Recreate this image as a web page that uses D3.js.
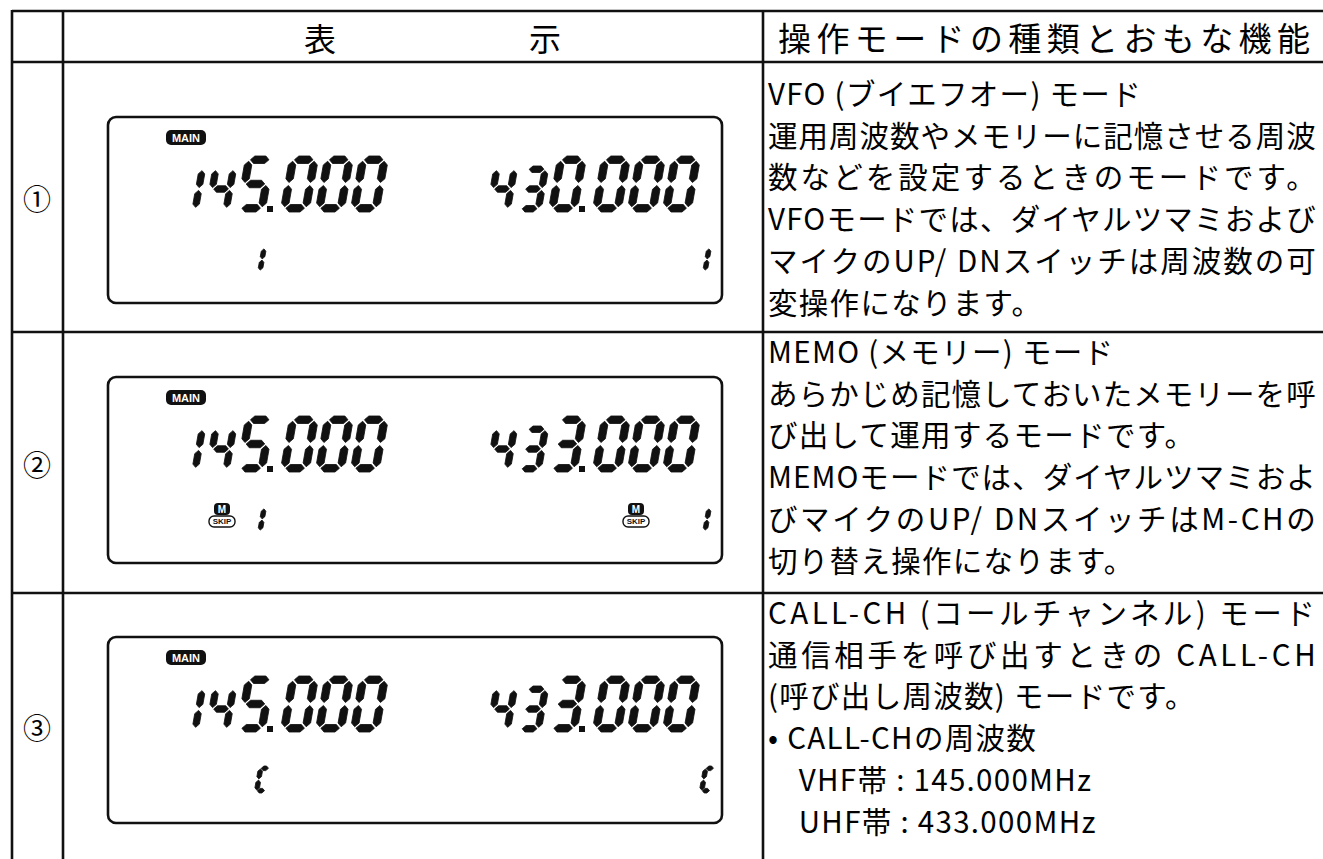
<!DOCTYPE html>
<html><head><meta charset="utf-8">
<script src="https://cdn.jsdelivr.net/npm/d3@7"></script>
<style>body{margin:0;background:#fff}</style>
</head><body><svg id="c" width="1323" height="859"></svg>
<script>
// ---------- data ----------
const rowLabels = ["①", "②", "③"];
const headerLeft = ["表", "示"];
const headerRight = "操作モードの種類とおもな機能";
const vhfFreq = ["145.000", "145.000", "145.000"];
const uhfFreq = ["430.000", "433.000", "433.000"];
const chIndicator = ["1", "1", "C"];
const skipShown = [false, true, false];
const descVFO = ["VFO (ブイエフオー) モード", "運用周波数やメモリーに記憶させる周波", "数などを設定するときのモードです。", "VFOモードでは、ダイヤルツマミおよび", "マイクのUP/ DNスイッチは周波数の可", "変操作になります。"];
const descMEMO = ["MEMO (メモリー) モード", "あらかじめ記憶しておいたメモリーを呼", "び出して運用するモードです。", "MEMOモードでは、ダイヤルツマミおよ", "びマイクのUP/ DNスイッチはM-CHの", "切り替え操作になります。"];
const descCALL = ["CALL-CH (コールチャンネル) モード", "通信相手を呼び出すときの CALL-CH", "(呼び出し周波数) モードです。", "• CALL-CHの周波数", "\u3000VHF帯 : 145.000MHz", "\u3000UHF帯 : 433.000MHz"];
const descriptions = [descVFO, descMEMO, descCALL];

// ---------- layout ----------
const W = 1323, H = 859;
const svg = d3.select("#c");
const font = "'Noto Sans CJK JP','Noto Sans',sans-serif";
const rowEdges = [62, 332, 593, 859];
const colX = [12, 63, 763, W];
const y = d3.scaleOrdinal().domain(d3.range(3)).range(rowEdges.slice(0, 3));
const rowH = i => rowEdges[i + 1] - rowEdges[i];
const boxTop = d3.scaleLinear().domain([0, 2]).range([117, 637]);

// grid lines
const g = svg.append("g").attr("stroke", "#111").attr("stroke-width", 2.6);
g.append("line").attr("x1", colX[0]).attr("x2", W).attr("y1", 11).attr("y2", 11);
rowEdges.slice(0, 3).forEach(v => g.append("line").attr("x1", colX[0]).attr("x2", W).attr("y1", v).attr("y2", v));
colX.slice(0, 3).forEach(v => g.append("line").attr("x1", v).attr("x2", v).attr("y1", 10).attr("y2", H));

// header
svg.append("text").attr("x", 320).attr("y", 37).attr("text-anchor", "middle").attr("dominant-baseline", "central")
  .attr("font-family", font).attr("font-size", 32).text(headerLeft[0]);
svg.append("text").attr("x", 545).attr("y", 37).attr("text-anchor", "middle").attr("dominant-baseline", "central")
  .attr("font-family", font).attr("font-size", 32).text(headerLeft[1]);
svg.append("text").attr("x", 778).attr("y", 37).attr("dominant-baseline", "central")
  .attr("font-family", font).attr("font-size", 33).attr("textLength", 532).attr("lengthAdjust", "spacing").text(headerRight);

// row labels
svg.selectAll("text.rl").data(rowLabels).join("text").attr("class", "rl")
  .attr("x", 37).attr("y", (d, i) => y(i) + rowH(i) / 2 + 1)
  .attr("text-anchor", "middle").attr("dominant-baseline", "central")
  .attr("font-family", font).attr("font-size", 28).text(d => d);

// descriptions
descriptions.forEach((lines, i) => {
  const first = y(i) + (i === 0 ? 30 : 18);
  svg.append("g").selectAll("text").data(lines).join("text").attr("class", "desc")
    .attr("x", 768).attr("y", (d, k) => first + k * 41.7)
    .attr("dominant-baseline", "central")
    .attr("font-family", font).attr("font-size", 29.5).attr("letter-spacing", 1.3)
    .style("white-space", "pre").text(d => d)
    .each(function () {
      const len = this.getComputedTextLength();
      if (len > 485) d3.select(this).attr("textLength", Math.min(549, len + 45)).attr("lengthAdjust", "spacing");
    });
});

// ---------- 7-segment drawing ----------
const SEG = {"0": "abcdef", "1": "bc", "3": "abcdg", "4": "bcfg", "5": "acdfg", "C": "adef"};
function segPolys(w, h, t, gp) {
  const hx = (x0, x1, yy) => [[x0 + gp, yy], [x0 + gp + t / 2, yy - t / 2], [x1 - gp - t / 2, yy - t / 2], [x1 - gp, yy], [x1 - gp - t / 2, yy + t / 2], [x0 + gp + t / 2, yy + t / 2]];
  const vx = (xx, y0, y1) => [[xx, y0 + gp], [xx + t / 2, y0 + gp + t / 2], [xx + t / 2, y1 - gp - t / 2], [xx, y1 - gp], [xx - t / 2, y1 - gp - t / 2], [xx - t / 2, y0 + gp + t / 2]];
  const L = t / 2, R = w - t / 2, T = -h + t / 2, M = -h / 2, B = -t / 2;
  return {a: hx(L, R, T), g: hx(L, R, M), d: hx(L, R, B), f: vx(L, T, M), e: vx(L, M, B), b: vx(R, T, M), c: vx(R, M, B)};
}
function drawDigit(parent, ch, x0, base, w, h, t, gp) {
  const polys = segPolys(w, h, t, gp);
  const gg = parent.append("g").attr("transform", `translate(${x0},${base}) skewX(-10)`);
  gg.selectAll("path").data(SEG[ch].split("")).join("path")
    .attr("d", s => d3.line()(polys[s]) + "Z").attr("fill", "#111")
    .attr("stroke", "#111").attr("stroke-width", 0.8).attr("stroke-linejoin", "round");
}
// slots: small, small, big, dot, big, big, big
const slotKind = ["s", "s", "b", "dot", "b", "b", "b"];
const slotW = {s: 31, b: 35, dot: 9};
function drawFreq(parent, str, xStart, base) {
  let x = xStart;
  str.split("").forEach((ch, k) => {
    const kind = slotKind[k];
    if (kind === "dot") {
      parent.append("rect").attr("x", x - 4).attr("y", base - 6).attr("width", 6).attr("height", 6).attr("fill", "#111");
    } else if (kind === "s") {
      drawDigit(parent, ch, x, base, 24, 46, 6.5, 1.4);
    } else {
      drawDigit(parent, ch, x, base, 29, 56, 7.5, 1.5);
    }
    x += slotW[kind];
  });
}

// ---------- LCD panels ----------
d3.range(3).forEach(i => {
  const top = boxTop(i);
  const p = svg.append("g");
  p.append("rect").attr("x", 108).attr("y", top).attr("width", 614).attr("height", 186).attr("rx", 8)
    .attr("fill", "none").attr("stroke", "#111").attr("stroke-width", 2.6);
  // MAIN badge
  p.append("rect").attr("x", 166).attr("y", top + 13).attr("width", 40).attr("height", 15).attr("rx", 5).attr("fill", "#111");
  p.append("text").attr("x", 186).attr("y", top + 21).attr("text-anchor", "middle").attr("dominant-baseline", "central")
    .attr("font-family", "'Liberation Sans',Arial,sans-serif").attr("font-weight", "bold").attr("font-size", 11)
    .attr("fill", "#fff").text("MAIN");
  const base = top + 95;
  drawFreq(p, vhfFreq[i], 174, base);
  drawFreq(p, uhfFreq[i], 486, base);
  // channel indicators
  const ib = top + 156;
  [258, 703].forEach(xx => drawDigit(p, chIndicator[i], xx - 4, ib, chIndicator[i] === "C" ? 13 : 8, 27, 4.6, 0.6));
  if (skipShown[i]) {
    [222, 636].forEach(xx => {
      p.append("rect").attr("x", xx - 8).attr("y", ib - 30).attr("width", 16).attr("height", 12).attr("rx", 4).attr("fill", "#111");
      p.append("text").attr("x", xx).attr("y", ib - 23.5).attr("text-anchor", "middle").attr("dominant-baseline", "central")
        .attr("font-family", "'Liberation Sans',Arial,sans-serif").attr("font-weight", "bold").attr("font-size", 10).attr("fill", "#fff").text("M");
      p.append("rect").attr("x", xx - 13).attr("y", ib - 17).attr("width", 26).attr("height", 11).attr("rx", 5)
        .attr("fill", "none").attr("stroke", "#111").attr("stroke-width", 1.4);
      p.append("text").attr("x", xx).attr("y", ib - 11.3).attr("text-anchor", "middle").attr("dominant-baseline", "central")
        .attr("font-family", "'Liberation Sans',Arial,sans-serif").attr("font-weight", "bold").attr("font-size", 8).attr("fill", "#111").text("SKIP");
    });
  }
});
</script></body></html>
